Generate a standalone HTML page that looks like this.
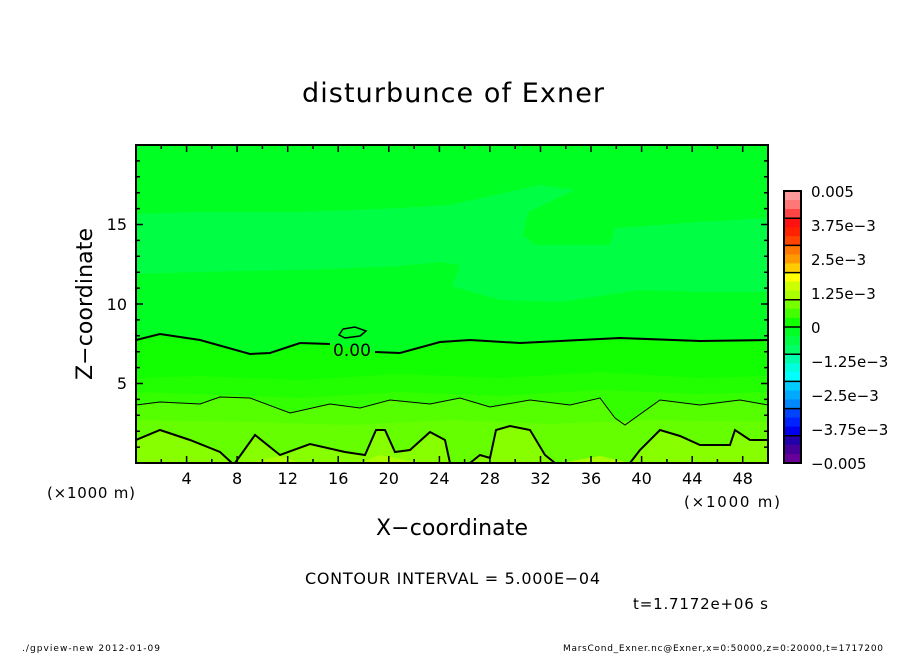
<!DOCTYPE html>
<html><head><meta charset="utf-8"><style>
body{margin:0;background:#fff;width:904px;height:654px;overflow:hidden}
svg text{font-family:"DejaVu Sans","Liberation Sans",sans-serif;fill:#000}
</style></head><body>
<svg width="904" height="654" viewBox="0 0 904 654" xmlns="http://www.w3.org/2000/svg">
<defs><clipPath id="c"><rect x="136" y="145" width="632" height="318"/></clipPath></defs>
<g clip-path="url(#c)">
<rect x="136" y="145" width="632" height="318" fill="#00ff22"/>
<path d="M136,214 L200,212 L300,212 L400,208 L450,205 L540,185 L575,190 L528,212 L523,235 L535,245 L610,245 L615,228 L700,222 L768,218 L768,292 L700,292 L640,290 L560,302 L500,300 L452,286 L460,265 L440,262 L400,266 L300,270 L200,272 L136,274 Z" fill="#00ff44"/>
<path d="M136,340 L160,334 L200,340 L250,354 L270,353 L300,343 L330,344 L375,352 L400,353 L440,342 L470,340 L520,343 L620,338 L700,341 L768,340 L768,463 L136,463 Z" fill="#11ff00"/>
<path d="M136,378 L200,376 L300,380 L400,374 L500,378 L600,372 L700,378 L768,376 L768,463 L136,463 Z" fill="#22ff00"/>
<path d="M136,392 L200,394 L300,398 L400,392 L500,396 L600,390 L700,394 L768,392 L768,463 L136,463 Z" fill="#33ff00"/>
<path d="M136,405 L160,402 L200,404 L220,397 L250,398 L290,413 L330,404 L360,408 L390,400 L430,404 L460,398 L490,407 L530,400 L570,405 L600,398 L615,418 L625,425 L660,400 L700,405 L740,400 L768,405 L768,463 L136,463 Z" fill="#55ff00"/>
<path d="M136,420 L250,422 L350,425 L450,420 L550,424 L650,420 L768,422 L768,463 L136,463 Z" fill="#66ff00"/>
<path d="M136,440 L160,430 L190,440 L220,452 L232,463 L235,463 L255,435 L280,455 L310,444 L345,452 L365,455 L376,430 L385,430 L395,452 L410,450 L430,432 L445,440 L450,463 L470,463 L480,455 L490,458 L496,430 L510,426 L530,430 L545,455 L555,463 L630,463 L640,450 L660,430 L680,436 L700,445 L730,445 L735,430 L750,440 L768,440 L768,463 L136,463 Z" fill="#88ff00"/>
<path d="M250,463 L280,456 L300,463 Z M360,463 L380,455 L420,463 Z M560,463 L600,456 L630,463 Z" fill="#aaff00"/>
<g fill="none" stroke="#000">
<path d="M136,340 L160,334 L200,340 L250,354 L270,353 L300,343 L330,344" stroke-width="2"/>
<path d="M375,352 L400,353 L440,342 L470,340 L520,343 L620,338 L700,341 L768,340" stroke-width="2"/>
<path d="M339,335 L343,329 L355,327 L366,331 L360,336 L345,338 Z" stroke-width="1.5"/>
<path d="M136,405 L160,402 L200,404 L220,397 L250,398 L290,413 L330,404 L360,408 L390,400 L430,404 L460,398 L490,407 L530,400 L570,405 L600,398 L615,418 L625,425 L660,400 L700,405 L740,400 L768,405" stroke-width="1"/>
<path d="M136,440 L160,430 L190,440 L220,452 L232,463 M235,463 L255,435 L280,455 L310,444 L345,452 L365,455 L376,430 L385,430 L395,452 L410,450 L430,432 L445,440 L450,463 M470,463 L480,455 L490,458 L496,430 L510,426 L530,430 L545,455 L555,463 M630,463 L640,450 L660,430 L680,436 L700,445 L730,445 L735,430 L750,440 L768,440" stroke-width="2"/>
</g>
<text x="333" y="356" font-size="17" textLength="38">0.00</text>
</g>
<rect x="136" y="145" width="632" height="318" fill="none" stroke="#000" stroke-width="2"/>
<g stroke="#000" stroke-width="1.5">
<path d="M161.3,463v-4M186.6,463v-7M211.8,463v-4M237.1,463v-7M262.4,463v-4M287.7,463v-7M313,463v-4M338.2,463v-7M363.5,463v-4M388.8,463v-7M414.1,463v-4M439.4,463v-7M464.6,463v-4M489.9,463v-7M515.2,463v-4M540.5,463v-7M565.8,463v-4M591,463v-7M616.3,463v-4M641.6,463v-7M666.9,463v-4M692.2,463v-7M717.4,463v-4M742.7,463v-7"/>
<path d="M161.3,145v4M186.6,145v7M211.8,145v4M237.1,145v7M262.4,145v4M287.7,145v7M313,145v4M338.2,145v7M363.5,145v4M388.8,145v7M414.1,145v4M439.4,145v7M464.6,145v4M489.9,145v7M515.2,145v4M540.5,145v7M565.8,145v4M591,145v7M616.3,145v4M641.6,145v7M666.9,145v4M692.2,145v7M717.4,145v4M742.7,145v7"/>
<path d="M136,447.1h4M136,431.2h4M136,415.3h4M136,399.4h4M136,383.5h7M136,367.6h4M136,351.7h4M136,335.8h4M136,319.9h4M136,304h7M136,288.1h4M136,272.2h4M136,256.3h4M136,240.4h4M136,224.5h7M136,208.6h4M136,192.7h4M136,176.8h4M136,160.9h4"/>
<path d="M768,447.1h-4M768,431.2h-4M768,415.3h-4M768,399.4h-4M768,383.5h-7M768,367.6h-4M768,351.7h-4M768,335.8h-4M768,319.9h-4M768,304h-7M768,288.1h-4M768,272.2h-4M768,256.3h-4M768,240.4h-4M768,224.5h-7M768,208.6h-4M768,192.7h-4M768,176.8h-4M768,160.9h-4"/>
</g>
<g font-size="16" text-anchor="middle">
<text x="186.6" y="484">4</text><text x="237.1" y="484">8</text><text x="287.7" y="484">12</text><text x="338.2" y="484">16</text><text x="388.8" y="484">20</text><text x="439.4" y="484">24</text><text x="489.9" y="484">28</text><text x="540.5" y="484">32</text><text x="591" y="484">36</text><text x="641.6" y="484">40</text><text x="692.2" y="484">44</text><text x="742.7" y="484">48</text>
</g>
<g font-size="16" text-anchor="end">
<text x="127" y="389">5</text><text x="127" y="310">10</text><text x="127" y="230">15</text>
</g>
<text x="47" y="498" font-size="15" textLength="88">(×1000 m)</text>
<text x="684" y="507" font-size="15" textLength="96">(×1000 m)</text>
<text x="376" y="535" font-size="22" textLength="152">X−coordinate</text>
<text transform="translate(92,380) rotate(-90)" font-size="22" textLength="152">Z−coordinate</text>
<text x="302" y="102" font-size="27" textLength="302">disturbunce of Exner</text>
<text x="305" y="584" font-size="16" textLength="295">CONTOUR INTERVAL = 5.000E−04</text>
<text x="633" y="609" font-size="15" textLength="135">t=1.7172e+06 s</text>
<text x="22" y="651" font-size="9" textLength="138">./gpview-new   2012-01-09</text>
<text x="563" y="651" font-size="9" textLength="320">MarsCond_Exner.nc@Exner,x=0:50000,z=0:20000,t=1717200</text>
<g>
<rect x="784" y="191" width="17" height="9.5" fill="#ff9999"/><rect x="784" y="200" width="17" height="9.5" fill="#ff7777"/><rect x="784" y="209" width="17" height="9.5" fill="#ff4444"/>
<rect x="784" y="218.2" width="17" height="9.5" fill="#ff1111"/><rect x="784" y="227.2" width="17" height="9.5" fill="#ff2200"/><rect x="784" y="236.2" width="17" height="9.5" fill="#ff4400"/>
<rect x="784" y="245.4" width="17" height="9.5" fill="#ff7700"/><rect x="784" y="254.4" width="17" height="9.5" fill="#ff9900"/><rect x="784" y="263.4" width="17" height="9.5" fill="#ffcc00"/>
<rect x="784" y="272.6" width="17" height="9.5" fill="#ffff00"/><rect x="784" y="281.6" width="17" height="9.5" fill="#ccff00"/><rect x="784" y="290.6" width="17" height="9.5" fill="#aaff00"/>
<rect x="784" y="299.8" width="17" height="9.5" fill="#77ff00"/><rect x="784" y="308.8" width="17" height="9.5" fill="#44ff00"/><rect x="784" y="317.8" width="17" height="9.5" fill="#11ff00"/>
<rect x="784" y="327" width="17" height="9.5" fill="#00ff22"/><rect x="784" y="336" width="17" height="9.5" fill="#00ff44"/><rect x="784" y="345" width="17" height="9.5" fill="#00ff66"/>
<rect x="784" y="354.2" width="17" height="9.5" fill="#00ffaa"/><rect x="784" y="363.2" width="17" height="9.5" fill="#00ffdd"/><rect x="784" y="372.2" width="17" height="9.5" fill="#00ffff"/>
<rect x="784" y="381.4" width="17" height="9.5" fill="#00ccff"/><rect x="784" y="390.4" width="17" height="9.5" fill="#00aaff"/><rect x="784" y="399.4" width="17" height="9.5" fill="#0088ff"/>
<rect x="784" y="408.6" width="17" height="9.5" fill="#0044ff"/><rect x="784" y="417.6" width="17" height="9.5" fill="#0022ff"/><rect x="784" y="426.6" width="17" height="9.5" fill="#0000ee"/>
<rect x="784" y="435.8" width="17" height="9.5" fill="#2200aa"/><rect x="784" y="444.8" width="17" height="9.5" fill="#440099"/><rect x="784" y="453.8" width="17" height="9.2" fill="#660099"/>
</g>
<g stroke="#000" stroke-width="1.5" fill="none">
<rect x="784" y="191" width="17" height="272" stroke-width="2"/>
<path d="M784,218.2h17M784,245.4h17M784,272.6h17M784,299.8h17M784,327h17M784,354.2h17M784,381.4h17M784,408.6h17M784,435.8h17"/>
</g>
<g font-size="15">
<text x="811" y="197">0.005</text><text x="811" y="231">3.75e−3</text><text x="811" y="265">2.5e−3</text><text x="811" y="299">1.25e−3</text><text x="811" y="333">0</text><text x="811" y="367">−1.25e−3</text><text x="811" y="401">−2.5e−3</text><text x="811" y="435">−3.75e−3</text><text x="811" y="469">−0.005</text>
</g>
</svg>
</body></html>
